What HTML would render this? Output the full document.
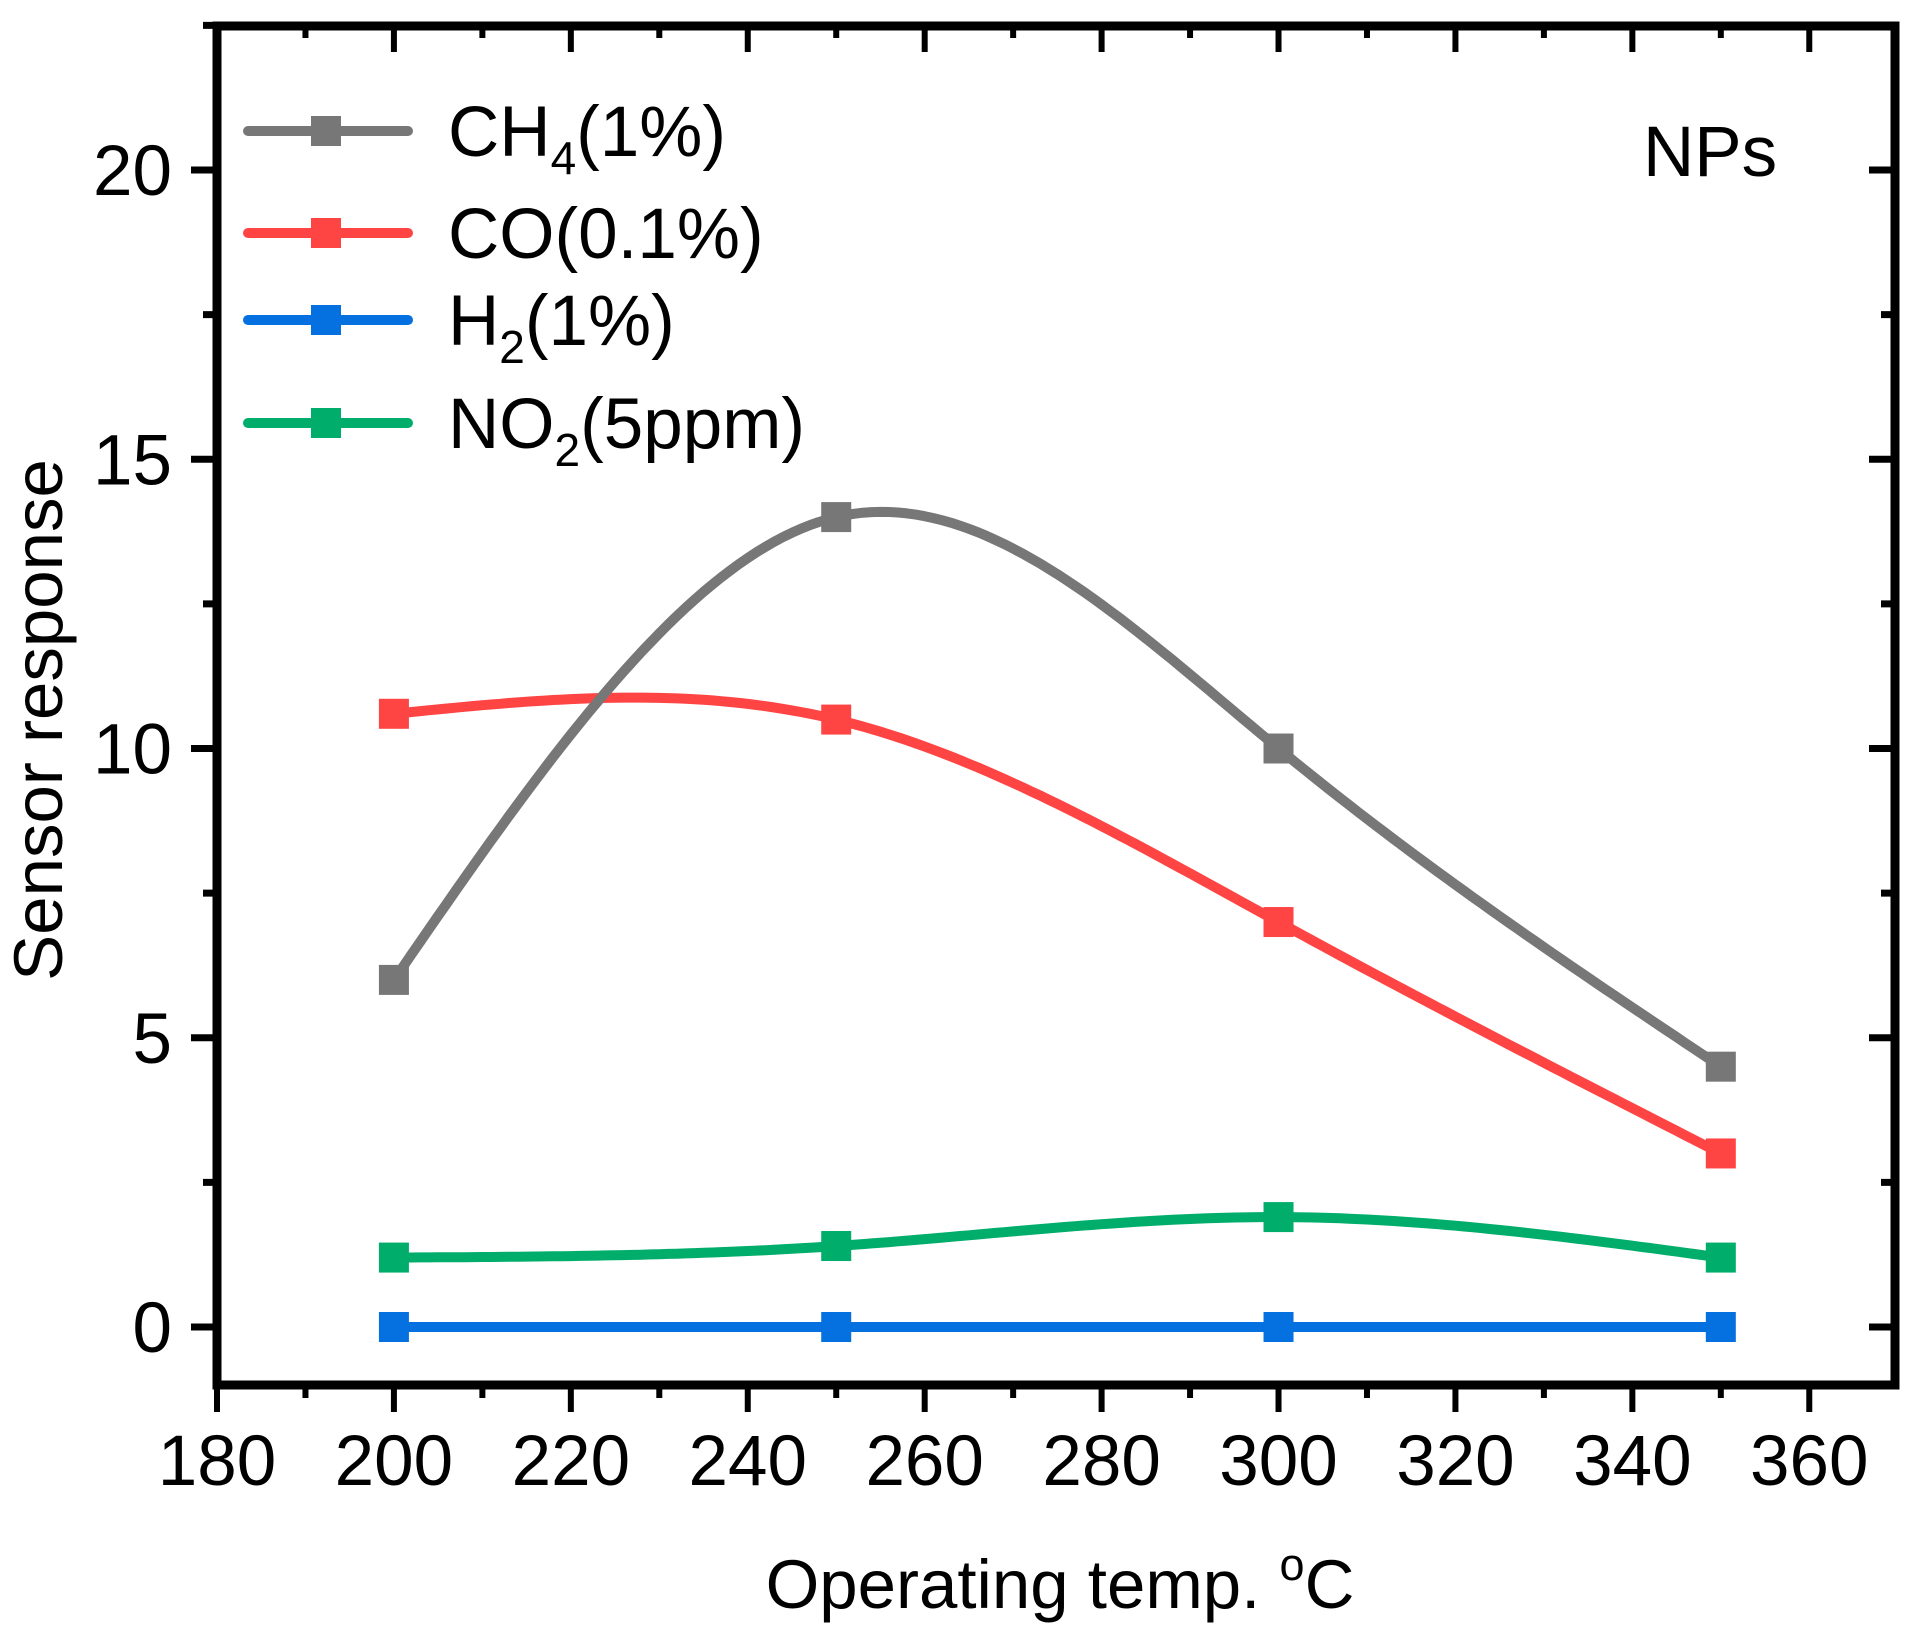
<!DOCTYPE html>
<html><head><meta charset="utf-8"><style>html,body{margin:0;padding:0;background:#fff}svg{display:block}text{font-family:"Liberation Sans",Arial,sans-serif;fill:#000}</style></head>
<body>
<svg id="s" width="1921" height="1645" viewBox="0 0 1921 1645" xmlns="http://www.w3.org/2000/svg">
<g id="ticks" stroke="#000" stroke-width="6"></g>
<g id="series"></g>
<rect x="217" y="26" width="1678" height="1359" fill="none" stroke="#000" stroke-width="9"/>
<g font-size="71" text-anchor="middle" id="xl"></g>
<g font-size="71" text-anchor="end" id="yl"></g>
<text x="1060" y="1608" font-size="69" text-anchor="middle">Operating temp. <tspan dy="-28" font-size="45">o</tspan><tspan dy="28">C</tspan></text>
<text transform="translate(62,720) rotate(-90)" font-size="69" text-anchor="middle">Sensor response</text>
<text x="1643" y="176" font-size="71">NPs</text>
<g stroke-width="10" stroke-linecap="round">
<line x1="248" y1="131" x2="408" y2="131" stroke="#777"/>
<line x1="248" y1="233" x2="408" y2="233" stroke="#f44"/>
<line x1="248" y1="320" x2="408" y2="320" stroke="#0570e0"/>
<line x1="248" y1="423" x2="408" y2="423" stroke="#00ad6a"/>
</g>
<rect x="311" y="116" width="30" height="30" fill="#777"/>
<rect x="311" y="218" width="30" height="30" fill="#f44"/>
<rect x="311" y="305" width="30" height="30" fill="#0570e0"/>
<rect x="311" y="408" width="30" height="30" fill="#00ad6a"/>
<g font-size="71">
<text x="448" y="156">CH<tspan font-size="46" dy="18">4</tspan><tspan dy="-18">(1%)</tspan></text>
<text x="448" y="258">CO(0.1%)</text>
<text x="448" y="345">H<tspan font-size="46" dy="18">2</tspan><tspan dy="-18">(1%)</tspan></text>
<text x="448" y="448">NO<tspan font-size="46" dy="18">2</tspan><tspan dy="-18">(5ppm)</tspan></text>
</g>
</svg>
<script>
const NS="http://www.w3.org/2000/svg";
const X=v=>217+(v-180)*8.846, Y=v=>1327-57.85*v;
function el(p,t,a,txt){const e=document.createElementNS(NS,t);for(const k in a)e.setAttribute(k,a[k]);if(txt!=null)e.textContent=txt;p.appendChild(e);return e;}
const tk=document.getElementById('ticks'),xl=document.getElementById('xl'),yl=document.getElementById('yl');
for(let v=180;v<=368;v+=10){const maj=v%20==0,x=X(v);
 el(tk,'line',{x1:x,y1:1385,x2:x,y2:maj?1412:1398});
 el(tk,'line',{x1:x,y1:26,x2:x,y2:maj?52:38});
 if(maj)el(xl,'text',{x:x,y:1485},v);}
for(let v=0;v<=22.5;v+=2.5){const maj=v%5==0,y=Y(v);
 el(tk,'line',{x1:217,y1:y,x2:maj?191:203,y2:y,'stroke-width':7});
 el(tk,'line',{x1:1895,y1:y,x2:maj?1869:1881,y2:y,'stroke-width':7});
 if(maj)el(yl,'text',{x:172,y:y+25},v);}
function spline(xs,ys){const n=xs.length,h=[],a=[],l=[1],mu=[0],z=[0],c=new Array(n).fill(0),b=[],d=[];
 for(let i=0;i<n-1;i++)h[i]=xs[i+1]-xs[i];
 for(let i=1;i<n-1;i++)a[i]=3/h[i]*(ys[i+1]-ys[i])-3/h[i-1]*(ys[i]-ys[i-1]);
 for(let i=1;i<n-1;i++){l[i]=2*(xs[i+1]-xs[i-1])-h[i-1]*mu[i-1];mu[i]=h[i]/l[i];z[i]=(a[i]-h[i-1]*z[i-1])/l[i];}
 for(let j=n-2;j>=0;j--){c[j]=(j>0?z[j]:0)-mu[j]*c[j+1];b[j]=(ys[j+1]-ys[j])/h[j]-h[j]*(c[j+1]+2*c[j])/3;d[j]=(c[j+1]-c[j])/(3*h[j]);}
 const pts=[];for(let j=0;j<n-1;j++)for(let t=0;t<h[j];t+=1){pts.push([xs[j]+t,ys[j]+b[j]*t+c[j]*t*t+d[j]*t*t*t]);}
 pts.push([xs[n-1],ys[n-1]]);return pts;}
const xs=[200,250,300,350];
const S=[["#0570e0",[0,0,0,0]],["#00ad6a",[1.2,1.4,1.9,1.2]],["#f44",[10.6,10.5,7,3]],["#777",[6,14,10,4.5]]];
const g=document.getElementById('series');
S.forEach(([c,ys])=>{const p=spline(xs,ys);
 el(g,'path',{d:'M'+p.map(q=>X(q[0]).toFixed(1)+','+Y(q[1]).toFixed(1)).join('L'),fill:'none',stroke:c,'stroke-width':10,'stroke-linejoin':'round'});
 xs.forEach((x,i)=>el(g,'rect',{x:X(x)-15,y:Y(ys[i])-15,width:30,height:30,fill:c}));});
</script>
</body></html>
